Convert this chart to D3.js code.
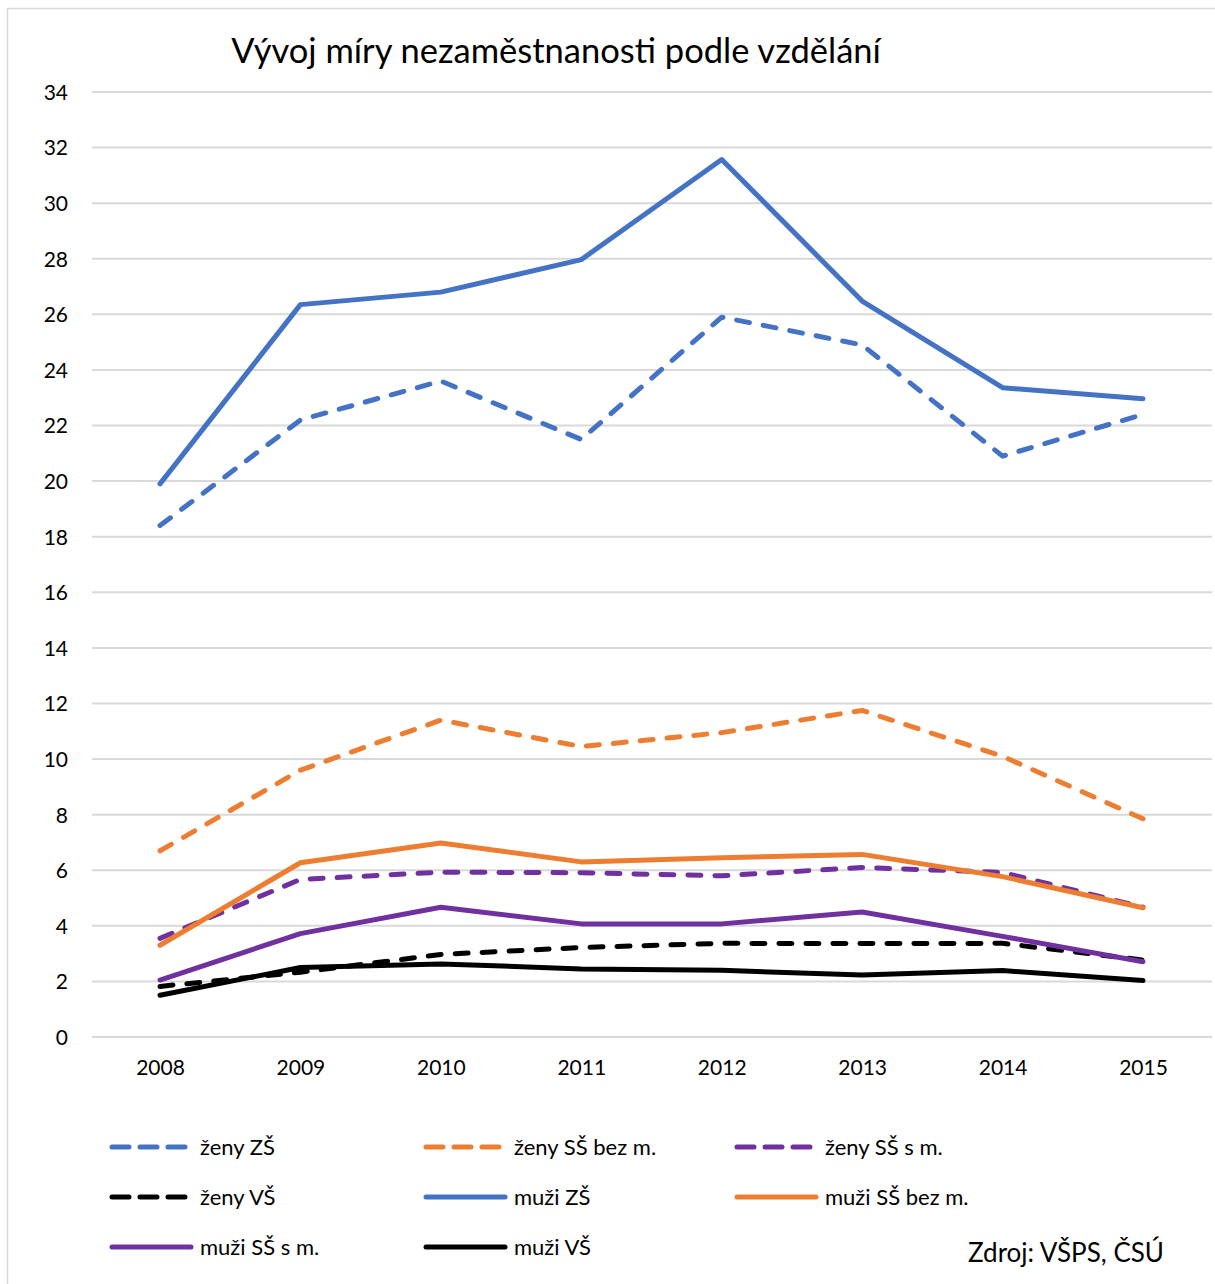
<!DOCTYPE html>
<html>
<head>
<meta charset="utf-8">
<script src="https://cdn.jsdelivr.net/npm/d3@7"></script>
<style>
  html, body { margin: 0; padding: 0; background: #fff; }
  svg { display: block; }
  text { font-family: Lato, "Open Sans", sans-serif; fill: #000; }
</style>
</head>
<body>
<svg id="chart" width="1215" height="1284"></svg>
<script>
// Unemployment rate (%) by education level and sex, 2008–2015
const years = ["2008", "2009", "2010", "2011", "2012", "2013", "2014", "2015"];
const yTicks = [0, 2, 4, 6, 8, 10, 12, 14, 16, 18, 20, 22, 24, 26, 28, 30, 32, 34];

const zenyZS      = [18.4, 22.2, 23.6, 21.5, 25.9, 24.9, 20.9, 22.4];
const zenySSbezM  = [6.7, 9.6, 11.4, 10.45, 10.95, 11.75, 10.1, 7.85];
const zenySSsM    = [3.55, 5.67, 5.93, 5.91, 5.8, 6.1, 5.92, 4.67];
const zenyVS      = [1.82, 2.33, 2.97, 3.22, 3.37, 3.36, 3.37, 2.77];
const muziZS      = [19.9, 26.35, 26.8, 27.97, 31.57, 26.48, 23.36, 22.96];
const muziSSbezM  = [3.3, 6.27, 6.98, 6.3, 6.45, 6.57, 5.77, 4.65];
const muziSSsM    = [2.05, 3.72, 4.67, 4.07, 4.07, 4.5, 3.62, 2.71];
const muziVS      = [1.5, 2.5, 2.63, 2.45, 2.4, 2.23, 2.39, 2.03];

const seriesNames = ["ženy ZŠ", "ženy SŠ bez m.", "ženy SŠ s m.", "ženy VŠ",
                     "muži ZŠ", "muži SŠ bez m.", "muži SŠ s m.", "muži VŠ"];
const seriesValues = [zenyZS, zenySSbezM, zenySSsM, zenyVS,
                      muziZS, muziSSbezM, muziSSsM, muziVS];
const seriesColors = ["#4472C4", "#ED7D31", "#7030A0", "#000000",
                      "#4472C4", "#ED7D31", "#7030A0", "#000000"];
const seriesDashed = [true, true, true, true, false, false, false, false];

const titleText = "Vývoj míry nezaměstnanosti podle vzdělání";
const sourceText = "Zdroj: VŠPS, ČSÚ";

const svg = d3.select("#chart");

// outer frame
svg.append("rect")
  .attr("x", 7.5).attr("y", 8.5)
  .attr("width", 1220).attr("height", 1290)
  .attr("fill", "none").attr("stroke", "#d9d9d9").attr("stroke-width", 1.5);

const x = d3.scalePoint().domain(years).range([160, 1143]);
const y = d3.scaleLinear().domain([0, 34]).range([1037, 92]);

// horizontal gridlines
svg.append("g").selectAll("line")
  .data(yTicks).join("line")
  .attr("x1", 92).attr("x2", 1212)
  .attr("y1", d => y(d)).attr("y2", d => y(d))
  .attr("stroke", "#d9d9d9").attr("stroke-width", 2);

// y axis labels
const yAxis = d3.axisLeft(y).tickValues(yTicks).tickSize(0).tickPadding(0);
const gy = svg.append("g").attr("transform", "translate(68,0)").call(yAxis);
gy.select(".domain").remove();
gy.selectAll("text").attr("font-size", 21).attr("font-family", "Lato, sans-serif")
  .attr("fill", "#000").attr("dy", "0.35em");

// x axis labels
const xAxis = d3.axisBottom(x).tickSize(0).tickPadding(0);
const gx = svg.append("g").attr("transform", "translate(0,1068)").call(xAxis);
gx.select(".domain").remove();
gx.selectAll("text").attr("font-size", 21).attr("font-family", "Lato, sans-serif")
  .attr("fill", "#000").attr("dy", "0.35em").attr("y", 0);

// series lines
const line = d3.line().x((d, i) => x(years[i])).y(d => y(d));
const lines = svg.append("g");
seriesValues.forEach((vals, k) => {
  lines.append("path")
    .attr("d", line(vals))
    .attr("fill", "none")
    .attr("stroke", seriesColors[k])
    .attr("stroke-width", 5)
    .attr("stroke-linejoin", "round")
    .attr("stroke-linecap", "round")
    .attr("stroke-dasharray", seriesDashed[k] ? "13 14" : null);
});

// title
svg.append("text")
  .attr("x", 556).attr("y", 63)
  .attr("text-anchor", "middle")
  .attr("font-size", 34.5)
  .text(titleText);

// legend: three columns, row-major
const legCols = [110, 424, 735];
const legRows = [1147, 1197, 1247];
const legend = svg.append("g");
seriesNames.forEach((name, k) => {
  const cx = legCols[k % 3];
  const cy = legRows[Math.floor(k / 3)];
  legend.append("line")
    .attr("x1", cx + 2).attr("x2", seriesDashed[k] ? cx + 75 : cx + 81)
    .attr("y1", cy).attr("y2", cy)
    .attr("stroke", seriesColors[k])
    .attr("stroke-width", 5)
    .attr("stroke-linecap", "round")
    .attr("stroke-dasharray", seriesDashed[k] ? "17 11" : null);
  legend.append("text")
    .attr("x", cx + 90).attr("y", cy)
    .attr("dy", "0.35em")
    .attr("font-size", 22)
    .text(name);
});

// source note
svg.append("text")
  .attr("x", 1164).attr("y", 1262)
  .attr("text-anchor", "end")
  .attr("font-size", 26)
  .text(sourceText);
</script>
</body>
</html>
